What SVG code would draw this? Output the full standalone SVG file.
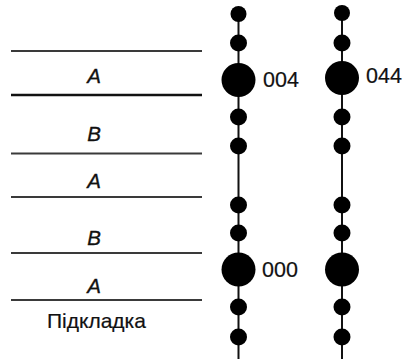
<svg xmlns="http://www.w3.org/2000/svg" width="407" height="359" viewBox="0 0 407 359">
  <style>
    .layer { stroke: #3a3a3a; stroke-width: 2; }
    .layer-strong { stroke: #111; stroke-width: 2.6; }
    .lbl { font-family: "Liberation Sans", Arial, sans-serif; font-size: 20.5px; font-style: italic; fill: #111; stroke: #111; stroke-width: 0.35; text-anchor: middle; }
    .txt { font-family: "Liberation Sans", Arial, sans-serif; font-size: 21.5px; fill: #111; stroke: #111; stroke-width: 0.2; }
    .chain { stroke: #111; stroke-width: 2; }
    .dot { fill: #000; }
  </style>
  <rect width="407" height="359" fill="#fff"/>

  <!-- stacked layer boundaries -->
  <g id="layers">
    <line class="layer" x1="11" y1="51" x2="202" y2="51"/>
    <line class="layer-strong" x1="11" y1="95" x2="202" y2="95"/>
    <line class="layer" x1="11" y1="153.5" x2="202" y2="153.5"/>
    <line class="layer" x1="11" y1="197" x2="202" y2="197"/>
    <line class="layer" x1="11" y1="253" x2="202" y2="253"/>
    <line class="layer" x1="11" y1="300" x2="202" y2="300"/>
  </g>

  <!-- layer names -->
  <g id="layer-labels">
    <text class="lbl" x="94" y="83">A</text>
    <text class="lbl" x="94" y="141">B</text>
    <text class="lbl" x="94" y="188">A</text>
    <text class="lbl" x="94" y="245">B</text>
    <text class="lbl" x="94" y="293">A</text>
    <text class="txt" x="47" y="328" style="font-size:21px">Підкладка</text>
  </g>

  <!-- vertical chains -->
  <g id="connectors">
    <line class="chain" x1="238.5" y1="14" x2="238.5" y2="359"/>
    <line class="chain" x1="342" y1="13" x2="342" y2="359"/>
  </g>

  <g id="column-left">
    <circle class="dot" cx="238.5" cy="14" r="8"/>
    <circle class="dot" cx="238.5" cy="43" r="8.5"/>
    <circle class="dot" cx="238.5" cy="80" r="17"/>
    <circle class="dot" cx="238.5" cy="117" r="8.5"/>
    <circle class="dot" cx="238.5" cy="146" r="8.5"/>
    <circle class="dot" cx="238.5" cy="205" r="8.5"/>
    <circle class="dot" cx="238.5" cy="233" r="8.5"/>
    <circle class="dot" cx="238.5" cy="269.5" r="17"/>
    <circle class="dot" cx="238.5" cy="307" r="8.5"/>
    <circle class="dot" cx="238.5" cy="337" r="8.5"/>
    <text class="txt" x="263" y="87">004</text>
    <text class="txt" x="262" y="277">000</text>
  </g>

  <g id="column-right">
    <circle class="dot" cx="342" cy="13" r="8"/>
    <circle class="dot" cx="342" cy="43" r="8.5"/>
    <circle class="dot" cx="342" cy="78" r="17"/>
    <circle class="dot" cx="342" cy="117" r="8.5"/>
    <circle class="dot" cx="342" cy="146" r="8.5"/>
    <circle class="dot" cx="342" cy="205" r="8.5"/>
    <circle class="dot" cx="342" cy="233" r="8.5"/>
    <circle class="dot" cx="342" cy="269.5" r="17"/>
    <circle class="dot" cx="342" cy="307" r="8.5"/>
    <circle class="dot" cx="342" cy="337" r="8.5"/>
    <text class="txt" x="366" y="83">044</text>
  </g>
</svg>
